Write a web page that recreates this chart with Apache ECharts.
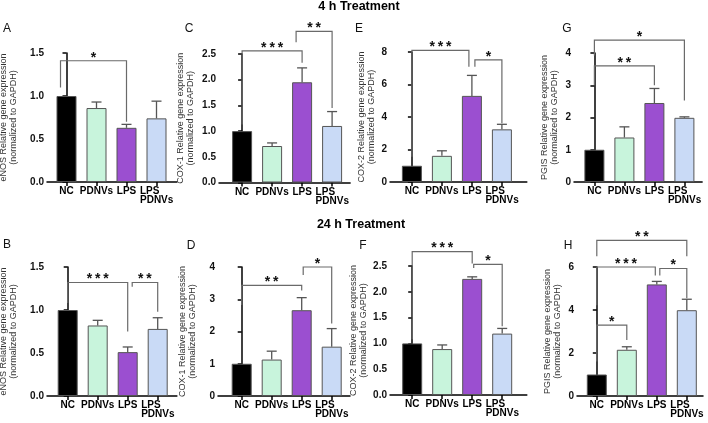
<!DOCTYPE html>
<html>
<head>
<meta charset="utf-8">
<script src="https://cdn.jsdelivr.net/npm/echarts@6/dist/echarts.min.js"></script>
<style>
  html, body { margin: 0; padding: 0; background: #fff; }
  #chart { width: 708px; height: 423px; }
</style>
</head>
<body>
<div id="chart"></div>
<script>
// ---- data ----
const categories = ["NC", "PDNVs", "LPS", "LPS PDNVs"];

// 4 h treatment
const eNOS4hMean = [1.0, 0.86, 0.63, 0.74];
const eNOS4hErr = [0, 0.07, 0.04, 0.20];
const cox1_4hMean = [1.0, 0.71, 1.95, 1.10];
const cox1_4hErr = [0, 0.06, 0.28, 0.28];
const cox2_4hMean = [1.0, 1.61, 5.30, 3.24];
const cox2_4hErr = [0, 0.31, 1.26, 0.31];
const pgis4hMean = [1.0, 1.38, 2.45, 1.99];
const pgis4hErr = [0, 0.33, 0.45, 0.03];

// 24 h treatment
const eNOS24hMean = [1.0, 0.82, 0.51, 0.78];
const eNOS24hErr = [0, 0.06, 0.06, 0.13];
const cox1_24hMean = [1.0, 1.13, 2.66, 1.53];
const cox1_24hErr = [0, 0.26, 0.39, 0.56];
const cox2_24hMean = [1.0, 0.89, 2.25, 1.19];
const cox2_24hErr = [0, 0.08, 0.04, 0.10];
const pgis24hMean = [1.0, 2.15, 5.19, 3.99];
const pgis24hErr = [0, 0.14, 0.14, 0.51];

// significance brackets: [fromX, toX, topY, leftLegBottomY, rightLegBottomY]
const eNOS4hSig = [[-0.2, 2, 1.41, 1.10, 0.70]];
const eNOS4hStars = ["*"];
const cox1_4hSig = [[0, 2, 2.56, 1.13, 2.33], [1.8, 3, 2.94, 2.73, 1.45]];
const cox1_4hStars = ["***", "**"];
const cox2_4hSig = [[0, 1.9, 8.1, 1.55, 7.1], [2.1, 3, 7.52, 7.1, 3.62]];
const cox2_4hStars = ["***", "*"];
const pgis4hSig = [[0, 3, 4.40, 3.92, 2.53], [0, 2, 3.60, 3.0, 3.0]];
const pgis4hStars = ["*", "**"];

const eNOS24hSig = [[0, 2, 1.32, 1.08, 0.75], [2.15, 3, 1.32, 1.27, 0.98]];
const eNOS24hStars = ["***", "**"];
const cox1_24hSig = [[0, 2, 3.43, 2.82, 3.27], [2.05, 3, 4.0, 3.75, 2.25]];
const cox1_24hStars = ["**", "*"];
const cox2_24hSig = [[0, 2, 2.78, 1.08, 2.55], [2.05, 3, 2.53, 2.46, 1.33]];
const cox2_24hStars = ["***", "*"];
const pgis24hSig = [[0, 3, 7.24, 6.5, 6.5], [0, 1.95, 6.0, 4.22, 5.6], [2.1, 3, 5.93, 5.6, 4.55], [0, 1, 3.3, 1.6, 2.6]];
const pgis24hStars = ["**", "***", "*", "*"];

// ---- panels ----
const panels = [
  { letter: "A", gene: "eNOS", mean: eNOS4hMean, err: eNOS4hErr, sig: eNOS4hSig, stars: eNOS4hStars, max: 1.5, step: 0.5, dec: 1 },
  { letter: "C", gene: "COX-1", mean: cox1_4hMean, err: cox1_4hErr, sig: cox1_4hSig, stars: cox1_4hStars, max: 2.5, step: 0.5, dec: 1 },
  { letter: "E", gene: "COX-2", mean: cox2_4hMean, err: cox2_4hErr, sig: cox2_4hSig, stars: cox2_4hStars, max: 8, step: 2, dec: 0 },
  { letter: "G", gene: "PGIS", mean: pgis4hMean, err: pgis4hErr, sig: pgis4hSig, stars: pgis4hStars, max: 4, step: 1, dec: 0 },
  { letter: "B", gene: "eNOS", mean: eNOS24hMean, err: eNOS24hErr, sig: eNOS24hSig, stars: eNOS24hStars, max: 1.5, step: 0.5, dec: 1 },
  { letter: "D", gene: "COX-1", mean: cox1_24hMean, err: cox1_24hErr, sig: cox1_24hSig, stars: cox1_24hStars, max: 4, step: 1, dec: 0 },
  { letter: "F", gene: "COX-2", mean: cox2_24hMean, err: cox2_24hErr, sig: cox2_24hSig, stars: cox2_24hStars, max: 2.5, step: 0.5, dec: 1 },
  { letter: "H", gene: "PGIS", mean: pgis24hMean, err: pgis24hErr, sig: pgis24hSig, stars: pgis24hStars, max: 6, step: 2, dec: 0 },
];

// layout in pixels (one entry per panel, same order)
const UNIT = 30; // px per category
const layouts = [
  { left: 47, top: 53, h: 129, xMin: -0.65, xMax: 3.68, gap: 28, lx: 7, ly: 29 },
  { left: 219, top: 54, h: 128.5, xMin: -0.77, xMax: 3.6, gap: 23, lx: 189, ly: 29 },
  { left: 390, top: 52, h: 130, xMin: -0.73, xMax: 3.83, gap: 13, lx: 359, ly: 29 },
  { left: 574, top: 53, h: 129, xMin: -0.68, xMax: 3.59, gap: 14, lx: 567, ly: 29 },
  { left: 47, top: 267, h: 129, xMin: -0.69, xMax: 3.64, gap: 28, lx: 7, ly: 245 },
  { left: 218, top: 267, h: 129, xMin: -0.79, xMax: 3.61, gap: 20, lx: 191, ly: 246 },
  { left: 390, top: 266, h: 129, xMin: -0.74, xMax: 3.82, gap: 21, lx: 363, ly: 246 },
  { left: 577, top: 267, h: 129, xMin: -0.66, xMax: 3.54, gap: 14, lx: 568, ly: 246 },
];

const FONT = "'Liberation Sans', Arial, sans-serif";
const barColors = ["#000000", "#c8f4dc", "#9b4fd0", "#c9daf6"];
const lineGrey = "#6a6a6a";

const grids = [], xAxes = [], yAxes = [], series = [], graphics = [];

panels.forEach((p, i) => {
  const L = layouts[i];
  grids.push({ left: L.left, top: L.top, width: (L.xMax - L.xMin) * UNIT, height: L.h, outerBoundsMode: "none" });

  xAxes.push({
    type: "value", gridIndex: i, min: L.xMin, max: L.xMax,
    axisLine: { show: true, onZero: false, lineStyle: { color: "#000", width: 1.5 } },
    axisTick: { show: true, customValues: [0, 1, 2, 3], length: 4, lineStyle: { color: "#000", width: 1.5 } },
    axisLabel: {
      customValues: [0, 1, 2, 3],
      margin: 5,
      color: "#000", fontFamily: FONT, fontSize: 10, fontWeight: "bold", lineHeight: 9,
      formatter: (v) => {
        const name = categories[Math.round(v)];
        if (name.indexOf(" ") > 0) {
          const parts = name.split(" ");
          return "{l|" + parts[0] + "}\n{l|" + parts[1] + "}";
        }
        return name;
      },
      rich: { l: { width: 33, align: "left", fontFamily: FONT, fontSize: 10, fontWeight: "bold", lineHeight: 9, color: "#000" } },
    },
    splitLine: { show: false },
  });

  yAxes.push({
    type: "value", gridIndex: i, min: 0, max: p.max, interval: p.step,
    axisLine: { show: true, lineStyle: { color: "#000", width: 1.5 } },
    axisTick: { show: true, length: 4, lineStyle: { color: "#000", width: 1.5 } },
    axisLabel: { margin: 3, color: "#111", fontFamily: FONT, fontSize: 10, fontWeight: "bold", formatter: (v) => v.toFixed(p.dec) },
    splitLine: { show: false },
    name: p.gene + " Relative gene expression\n(normalized to GAPDH)",
    nameLocation: "middle", nameRotate: 90, nameGap: L.gap,
    nameTextStyle: { fontFamily: FONT, fontSize: 9, lineHeight: 10, color: "#333" },
  });

  series.push({
    type: "bar", xAxisIndex: i, yAxisIndex: i, barWidth: 20,
    data: p.mean.map((m, k) => ({ value: [k, m], itemStyle: { color: barColors[k] } })),
    itemStyle: { borderColor: "#555", borderWidth: 1 },
    silent: true,
  });

  // error bars (upper half only)
  series.push({
    type: "custom", xAxisIndex: i, yAxisIndex: i, z: 3, silent: true,
    data: p.mean.map((m, k) => [k, m, m + p.err[k]]),
    renderItem: (params, api) => {
      const lo = api.value(1), hi = api.value(2);
      if (!(hi > lo)) return;
      const a = api.coord([api.value(0), lo]);
      const b = api.coord([api.value(0), hi]);
      const st = { stroke: "#555", lineWidth: 1.3 };
      return {
        type: "group",
        children: [
          { type: "line", shape: { x1: a[0], y1: a[1], x2: b[0], y2: b[1] }, style: st },
          { type: "line", shape: { x1: b[0] - 5, y1: b[1], x2: b[0] + 5, y2: b[1] }, style: st },
        ],
      };
    },
  });

  // significance brackets
  series.push({
    type: "custom", xAxisIndex: i, yAxisIndex: i, z: 4, silent: true, clip: false,
    data: p.sig,
    renderItem: (params, api) => {
      const x1 = api.value(0), x2 = api.value(1), yt = api.value(2);
      const a = api.coord([x1, api.value(3)]);
      const b = api.coord([x1, yt]);
      const c = api.coord([x2, yt]);
      const d = api.coord([x2, api.value(4)]);
      const label = p.stars[params.dataIndex].split("").join("\u2009");
      return {
        type: "group",
        children: [
          { type: "polyline", shape: { points: [a, b, c, d] }, style: { stroke: lineGrey, lineWidth: 1.2, fill: null } },
          { type: "text", x: (b[0] + c[0]) / 2, y: b[1] + 4,
            style: { text: label, align: "center", verticalAlign: "bottom", font: "bold 14px " + FONT, fill: "#111" } },
        ],
      };
    },
  });

  graphics.push({ type: "text", x: L.lx, y: L.ly, style: { text: p.letter, font: "12px " + FONT, fill: "#111", align: "center", verticalAlign: "middle" } });
});

graphics.push({ type: "text", x: 359, y: 7, style: { text: "4 h Treatment", font: "bold 12.5px " + FONT, fill: "#000", align: "center", verticalAlign: "middle" } });
graphics.push({ type: "text", x: 361, y: 225, style: { text: "24 h Treatment", font: "bold 12.5px " + FONT, fill: "#000", align: "center", verticalAlign: "middle" } });

const chart = echarts.init(document.getElementById("chart"), null, { renderer: "canvas" });
chart.setOption({
  animation: false,
  backgroundColor: "#fff",
  grid: grids,
  xAxis: xAxes,
  yAxis: yAxes,
  series: series,
  graphic: graphics,
});
</script>
</body>
</html>
